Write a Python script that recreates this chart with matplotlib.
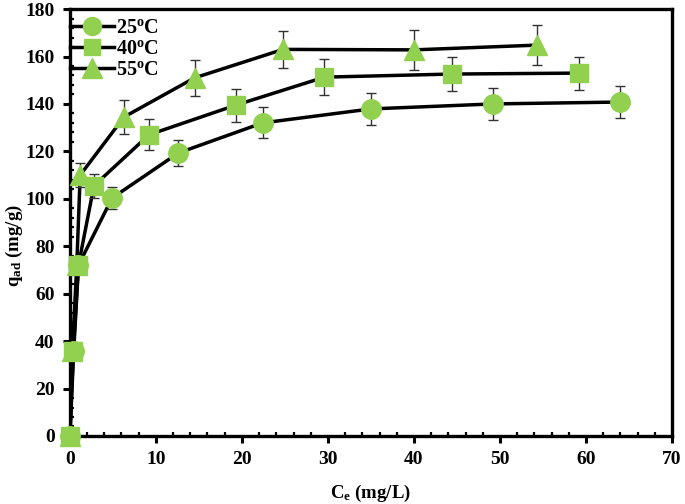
import numpy as np
import matplotlib
matplotlib.use("Agg")
import matplotlib.pyplot as plt
from matplotlib.lines import Line2D

plt.rcParams['font.family'] = ['Liberation Serif', 'DejaVu Serif']
plt.rcParams['font.weight'] = 'bold'
plt.rcParams['mathtext.fontset'] = 'custom'
plt.rcParams['mathtext.rm'] = 'Liberation Serif:bold'
plt.rcParams['mathtext.bf'] = 'Liberation Serif:bold'
plt.rcParams['mathtext.it'] = 'Liberation Serif:bold'

# ---- data ----
series_labels = ['25$^{\\rm o}$C', '40$^{\\rm o}$C', '55$^{\\rm o}$C']
ce_25 = [0, 0.45, 1.0, 4.9, 12.6, 22.4, 35.0, 49.2, 64.0]
qad_25 = [0, 36, 72, 100.3, 119.3, 132.0, 137.9, 140.0, 140.8]
err_25 = [0, 0, 0, 4.5, 5.5, 6.5, 6.7, 6.7, 6.7]

ce_40 = [0, 0.4, 1.0, 2.8, 9.2, 19.3, 29.6, 44.4, 59.2]
qad_40 = [0, 36, 72, 105.5, 127.0, 139.5, 151.3, 152.6, 153.0]
err_40 = [0, 0, 0, 5, 6.5, 7, 7.5, 7.2, 7]

ce_55 = [0, 0.3, 0.8, 1.2, 6.3, 14.5, 24.8, 40.0, 54.3]
qad_55 = [0, 36, 72, 110.0, 134.5, 151.0, 163.0, 162.8, 164.8]
err_55 = [0, 0, 0, 5, 7, 7.5, 7.8, 8.5, 8.5]

xticks = [0, 10, 20, 30, 40, 50, 60, 70]
yticks = [0, 20, 40, 60, 80, 100, 120, 140, 160, 180]

green = '#92D050'
markers = ['o', 's', '^']
msizes = [14, 13, 15]

fig = plt.figure(figsize=(6.85, 5.04), dpi=100)
ax = fig.add_axes([0.102, 0.135, 0.879, 0.847])
ax.set_xlim(0, 70)
ax.set_ylim(0, 180)
ax.set_xticks(xticks)
ax.set_yticks(yticks)
ax.set_xticks(np.arange(0, 70.1, 2), minor=True)
ax.set_yticks(np.arange(0, 180.1, 4), minor=True)

data = [(ce_25, qad_25, err_25), (ce_40, qad_40, err_40), (ce_55, qad_55, err_55)]
for (xs, ys, es) in data:
    ax.plot(xs, ys, color='black', lw=2.5, solid_joinstyle='round',
            solid_capstyle='round', zorder=2)

for (xs, ys, es) in data:
    ax.errorbar(xs, ys, yerr=es, fmt='none', ecolor='#333333', elinewidth=1.0,
                capsize=3.5, capthick=1.0, zorder=3)

for (xs, ys, es), m, ms in zip(data, markers, msizes):
    ax.plot(xs, ys, linestyle='none', marker=m, ms=ms, color=green,
            markeredgecolor=green, zorder=4, clip_on=False)

handles = [Line2D([], [], color='black', lw=2.5, marker=m, ms=ms - 1,
                  markerfacecolor=green, markeredgecolor=green)
           for m, ms in zip(markers, msizes)]
leg = ax.legend(handles, series_labels, loc='upper left', frameon=False,
                bbox_to_anchor=(0.0, 0.978), borderaxespad=0, borderpad=0,
                handlelength=2.2, handletextpad=0.1, labelspacing=0.05,
                prop={'family': 'Liberation Serif', 'weight': 'bold', 'size': 14.5})

for s in ax.spines.values():
    s.set_linewidth(2.4)
ax.tick_params(which='major', direction='out', length=5, width=2.2,
               labelsize=14, pad=6)
ax.tick_params(which='minor', direction='in', length=3, width=1.6)
for lab in ax.get_xticklabels() + ax.get_yticklabels():
    lab.set_fontweight('bold')

ax.set_xlabel('C$_{\\rm e}$ (mg/L)', fontsize=13.5, fontweight='bold')
ax.set_ylabel('q$_{\\rm ad}$ (mg/g)', fontsize=13.5, fontweight='bold')
ax.xaxis.set_label_coords(0.5, -0.11)
ax.yaxis.set_label_coords(-0.074, 0.447)

fig.savefig('out.png', dpi=100)
